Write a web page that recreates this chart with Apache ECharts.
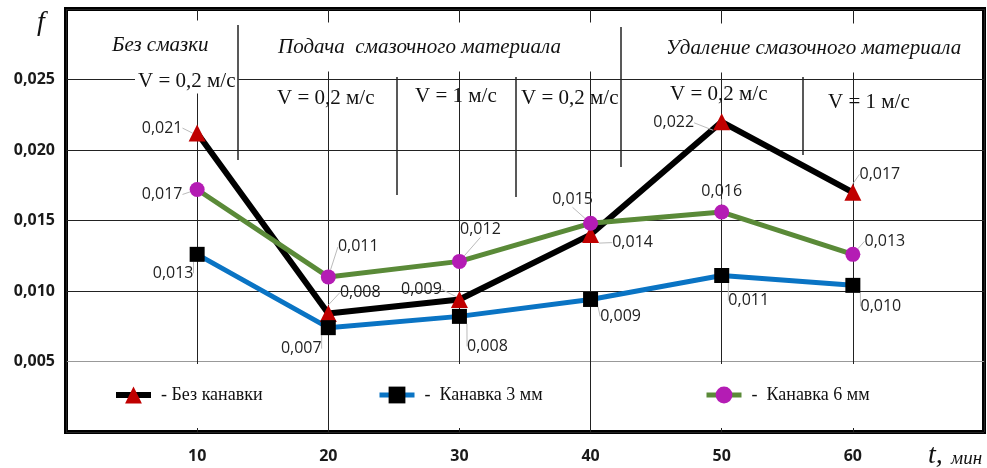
<!DOCTYPE html>
<html>
<head>
<meta charset="utf-8">
<script src="https://cdn.jsdelivr.net/npm/echarts@6/dist/echarts.min.js"></script>
<style>html,body{margin:0;padding:0;background:#fff}#c{width:987px;height:468px}</style>
</head>
<body>
<div id="c"></div>
<script>
// ---- data ----
var times = [10, 20, 30, 40, 50, 60];
var seriesNames = ['Без канавки', 'Канавка 3 мм', 'Канавка 6 мм'];
var noGroove = [0.0212, 0.0084, 0.0094, 0.0140, 0.0220, 0.0170];
var groove3 = [0.0126, 0.0074, 0.0082, 0.0094, 0.0111, 0.0104];
var groove6 = [0.0172, 0.0110, 0.0121, 0.0148, 0.0156, 0.0126];
var xTickLabels = ['10', '20', '30', '40', '50', '60'];
var yTickLabels = ['0,005', '0,010', '0,015', '0,020', '0,025'];

// ---- label placement (styling) ----
var shiftA = [[-35,-5],[32,-21],[-38,-10],[42,8],[-48,1],[27,-18]];
var shiftB = [[-24,19],[-27,21],[28,30],[30,17],[27,25],[28,21]];
var shiftC = [[-35,5],[30,-30],[21,-32],[-18,-24],[0,-21],[32,-13]];
var shifts = [shiftA, shiftB, shiftC];

function pairs(ys) { return times.map(function (t, i) { return [t, ys[i]]; }); }
function fmt(v) { return v.toFixed(3).replace('.', ','); }

var chart = echarts.init(document.getElementById('c'));

function mkSeries(name, ys, idx, lineColor, lineW, symbol, symSize, symColor) {
  return {
    name: name, type: 'line', data: pairs(ys), z: 3,
    symbol: symbol, symbolSize: symSize,
    lineStyle: { color: lineColor, width: lineW },
    itemStyle: { color: symColor },
    emphasis: { disabled: true },
    label: {
      show: true, position: 'inside',
      fontFamily: 'Open Sans', fontSize: 16, color: '#222',
      formatter: function (p) { return fmt(p.value[1]); }
    },
    labelLine: { show: true, lineStyle: { color: '#bbb', width: 1 } },
    labelLayout: function (p) {
      var s = shifts[idx][p.dataIndex];
      return { dx: s[0], dy: s[1] };
    }
  };
}

var serifText = function (txt, x, y, size, italic, extra) {
  var st = { text: txt, x: x, y: y, font: (italic ? 'italic ' : '') + size + 'px "Liberation Serif"', fill: '#111', align: 'left', verticalAlign: 'middle' };
  if (extra) for (var k in extra) st[k] = extra[k];
  return { type: 'text', z: 1, style: st };
};
var sep = function (x, y1, y2) {
  return { type: 'line', z: 1, shape: { x1: x, y1: y1, x2: x, y2: y2 }, style: { stroke: '#222', lineWidth: 1.5 } };
};
var whiteRect = function (x, y, w, h) {
  return { type: 'rect', z: 1, shape: { x: x, y: y, width: w, height: h }, style: { fill: '#fff' } };
};

var legendBase = function (name, left, fmtStr, lw, lc) {
  return {
    data: [name], left: left, top: 386, padding: 0,
    itemWidth: 35, itemHeight: 21, selectedMode: false,
    formatter: fmtStr,
    lineStyle: { width: lw, color: lc },
    textStyle: { fontFamily: 'Liberation Serif', fontSize: 18, color: '#111', padding: [0, 0, 0, 5] }
  };
};

chart.setOption({
  animation: false,
  backgroundColor: '#fff',
  grid: { left: 66, right: 3, top: 9, bottom: 36, show: true, borderColor: '#000', borderWidth: 4, backgroundColor: 'transparent' },
  xAxis: {
    type: 'value', min: 0, max: 70, interval: 10,
    axisLine: { show: false }, axisTick: { show: false },
    axisLabel: {
      margin: 16, fontFamily: 'Open Sans', fontWeight: 'bold', fontSize: 16, color: '#1a1a1a',
      formatter: function (v) { var i = times.indexOf(v); return i >= 0 ? xTickLabels[i] : ''; }
    },
    splitLine: { show: true, lineStyle: { color: '#222', width: 1 } }
  },
  yAxis: {
    type: 'value', min: 0, max: 0.03, interval: 0.005,
    axisLine: { show: false }, axisTick: { show: false },
    axisLabel: {
      margin: 11, fontFamily: 'Open Sans', fontWeight: 'bold', fontSize: 16, color: '#1a1a1a',
      formatter: function (v) { var i = Math.round(v / 0.005) - 1; return (i >= 0 && i < yTickLabels.length) ? yTickLabels[i] : ''; }
    },
    splitLine: { show: true, lineStyle: { color: ['#222', '#999', '#222', '#222', '#222', '#222', '#222'], width: 1 } }
  },
  legend: [
    legendBase(seriesNames[0], 113, '- {name}', 6, '#000'),
    legendBase(seriesNames[1], 377, '-  {name}', 5, '#0a74c4'),
    legendBase(seriesNames[2], 704, '-  {name}', 5, '#5a8a38')
  ],
  series: [
    mkSeries(seriesNames[0], noGroove, 0, '#000', 6, 'triangle', 17, '#c00000'),
    mkSeries(seriesNames[1], groove3, 1, '#0a74c4', 5, 'rect', 15, '#000'),
    mkSeries(seriesNames[2], groove6, 2, '#5a8a38', 5, 'circle', 15, '#b41cb4')
  ],
  graphic: [
    whiteRect(100, 364, 180, 64),
    whiteRect(360, 364, 210, 64),
    whiteRect(690, 364, 285, 64),
    serifText('Без смазки', 107, 45, 21, true, { backgroundColor: '#fff', padding: [14, 5, 14, 5] }),
    serifText('Подача  смазочного материала', 272, 47, 21, true, { backgroundColor: '#fff', padding: [14, 40, 14, 6] }),
    serifText('Удаление смазочного материала', 658, 48, 21, true, { backgroundColor: '#fff', padding: [14, 8, 14, 8] }),
    serifText('V = 0,2 м/с', 135, 81, 21, false, { backgroundColor: '#fff', padding: [2, 3, 2, 3] }),
    serifText('V = 0,2 м/с', 277, 98, 21, false),
    serifText('V = 1 м/с', 415, 96, 21, false),
    serifText('V = 0,2 м/с', 521, 98, 21, false),
    serifText('V = 0,2 м/с', 670, 94, 21, false),
    serifText('V = 1 м/с', 828, 102, 21, false),
    sep(238, 25, 160),
    sep(397, 77, 195),
    sep(516, 77, 197),
    sep(621, 27, 167),
    sep(803, 77, 155),
    { type: 'text', z: 1, style: { text: 'f', x: 41, y: 23, font: 'italic 28px "Liberation Serif"', fill: '#111', align: 'center', verticalAlign: 'middle' } },
    { type: 'text', z: 1, style: { text: 't,', x: 928, y: 456, font: 'italic 28px "Liberation Serif"', fill: '#111', align: 'left', verticalAlign: 'middle' } },
    { type: 'text', z: 1, style: { text: 'мин', x: 951, y: 459, font: 'italic 19px "Liberation Serif"', fill: '#111', align: 'left', verticalAlign: 'middle' } }
  ]
});
</script>
</body>
</html>
